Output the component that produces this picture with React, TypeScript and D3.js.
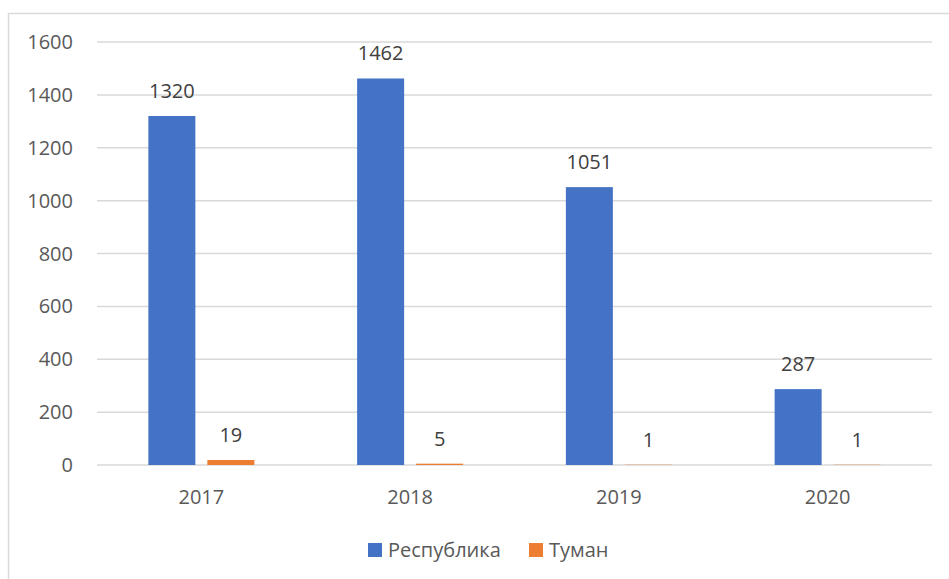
import React, { useEffect, useRef } from "react";
import * as d3 from "d3";

const years = ["2017", "2018", "2019", "2020"];
const seriesNames = ["Республика", "Туман"];
const respublika = [1320, 1462, 1051, 287];
const tuman = [19, 5, 1, 1];
const yTicks = [0, 200, 400, 600, 800, 1000, 1200, 1400, 1600];
const colours = ["#4472C4", "#ED7D31"];

export default function App() {
  const svgRef = useRef<SVGSVGElement | null>(null);

  useEffect(() => {
    const width = 949;
    const height = 579;
    const margin = { top: 42, right: 17, bottom: 114, left: 97 };
    const font = "'Open Sans', 'Liberation Sans', sans-serif";
    const textColour = "#595959";

    const svg = d3.select(svgRef.current);
    svg.selectAll("*").remove();
    svg.attr("width", width).attr("height", height);

    // chart frame (runs past the right and bottom edge)
    svg
      .append("rect")
      .attr("x", 8.5)
      .attr("y", 13.5)
      .attr("width", 960)
      .attr("height", 600)
      .attr("fill", "#fff")
      .attr("stroke", "#d9d9d9")
      .attr("stroke-width", 1.5);

    const x0 = d3
      .scaleBand()
      .domain(years)
      .range([margin.left, width - margin.right])
      .padding(0);

    const groupWidth = 106;
    const x1 = d3
      .scaleBand()
      .domain(seriesNames)
      .range([0, groupWidth])
      .paddingInner(12 / 59)
      .paddingOuter(0);

    const y = d3
      .scaleLinear()
      .domain([0, 1600])
      .range([height - margin.bottom, margin.top]);

    // gridlines
    svg
      .append("g")
      .selectAll("line")
      .data(yTicks)
      .enter()
      .append("line")
      .attr("x1", margin.left)
      .attr("x2", width - margin.right)
      .attr("y1", (d) => y(d))
      .attr("y2", (d) => y(d))
      .attr("stroke", "#d9d9d9")
      .attr("stroke-width", 1.5);

    // y tick labels
    svg
      .append("g")
      .selectAll("text")
      .data(yTicks)
      .enter()
      .append("text")
      .attr("x", 73)
      .attr("y", (d) => y(d))
      .attr("dy", "0.35em")
      .attr("text-anchor", "end")
      .style("font-family", font)
      .style("font-size", "20px")
      .attr("fill", textColour)
      .text((d) => d);

    const rows = years.map((yr, i) => ({
      year: yr,
      values: [
        { name: seriesNames[0], value: respublika[i], colour: colours[0] },
        { name: seriesNames[1], value: tuman[i], colour: colours[1] },
      ],
    }));

    const groups = svg
      .append("g")
      .selectAll("g")
      .data(rows)
      .enter()
      .append("g")
      .attr(
        "transform",
        (d) =>
          `translate(${(x0(d.year) as number) + (x0.bandwidth() - groupWidth) / 2},0)`
      );

    groups
      .selectAll("rect")
      .data((d) => d.values)
      .enter()
      .append("rect")
      .attr("x", (d) => x1(d.name) as number)
      .attr("y", (d) => y(d.value))
      .attr("width", x1.bandwidth())
      .attr("height", (d) => y(0) - y(d.value))
      .attr("fill", (d) => d.colour);

    // data labels
    groups
      .selectAll("text")
      .data((d) => d.values)
      .enter()
      .append("text")
      .attr("x", (d) => (x1(d.name) as number) + x1.bandwidth() / 2)
      .attr("y", (d) => y(d.value) - 18)
      .attr("text-anchor", "middle")
      .style("font-family", font)
      .style("font-size", "20px")
      .attr("fill", "#404040")
      .text((d) => d.value);

    // category labels
    svg
      .append("g")
      .selectAll("text")
      .data(years)
      .enter()
      .append("text")
      .attr("x", (d) => (x0(d) as number) + x0.bandwidth() / 2)
      .attr("y", 504)
      .attr("text-anchor", "middle")
      .style("font-family", font)
      .style("font-size", "20px")
      .attr("fill", textColour)
      .text((d) => d);

    // legend
    const legendX = [368, 529];
    const legend = svg
      .append("g")
      .selectAll("g")
      .data(seriesNames)
      .enter()
      .append("g")
      .attr("transform", (d, i) => `translate(${legendX[i]},543)`);

    legend
      .append("rect")
      .attr("width", 14)
      .attr("height", 14)
      .attr("fill", (d, i) => colours[i]);

    legend
      .append("text")
      .attr("x", 20)
      .attr("y", 14)
      .style("font-family", font)
      .style("font-size", "20px")
      .attr("fill", textColour)
      .text((d) => d);
  }, []);

  return (
    <svg
      ref={svgRef}
      style={{ position: "absolute", left: 0, top: 0 }}
    ></svg>
  );
}
